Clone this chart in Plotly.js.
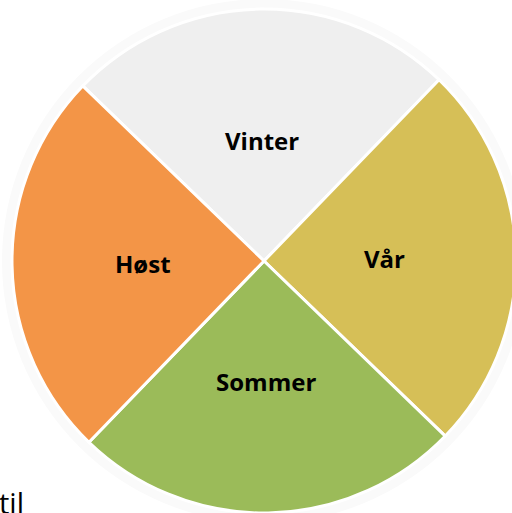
<!DOCTYPE html>
<html>
<head>
<meta charset="utf-8">
<script src="https://cdn.plot.ly/plotly-3.0.1.min.js"></script>
<style>
html,body{margin:0;padding:0;overflow:hidden;background:#fff;}
#chart{width:520px;height:513px;}
</style>
</head>
<body>
<div id="chart"></div>
<script>
const seasons = ["Vinter", "Vår", "Sommer", "Høst"];
const shares = [25, 25, 25, 25];
const sliceColors = ["#efefef", "#d6bf57", "#9bbb59", "#f39547"];
const footText = "til";

const W = 520, H = 513;
const cx = 264, cy = 261, r = 252;
const rotation = -46;
const labelFrac = 0.48;

const trace = {
  type: "pie",
  labels: seasons,
  values: shares,
  sort: false,
  direction: "clockwise",
  rotation: rotation,
  textinfo: "none",
  marker: {colors: sliceColors, line: {color: "#ffffff", width: 3}},
  hoverinfo: "none",
  showlegend: false,
  domain: {x: [(cx - r) / W, (cx + r) / W], y: [(H - (cy + r)) / H, (H - (cy - r)) / H]}
};

// slice labels placed at each slice's mid-angle, derived from the values
const total = shares.reduce((a, b) => a + b, 0);
let cum = 0;
const labelAnns = seasons.map((s, i) => {
  const mid = rotation + 360 * (cum + shares[i] / 2) / total;
  cum += shares[i];
  const a = mid * Math.PI / 180;
  const rr = r * labelFrac;
  const px = cx + rr * Math.sin(a);
  const py = cy - rr * Math.cos(a);
  return {
    text: "<b>" + s + "</b>", xref: "paper", yref: "paper",
    x: px / W, y: (H - py) / H, xanchor: "center", yanchor: "middle",
    showarrow: false,
    font: {family: "Open Sans, sans-serif", size: 24, color: "#000000"}
  };
});

const halo = 262;
const layout = {
  width: W,
  height: H,
  margin: {l: 0, r: 0, t: 0, b: 0},
  paper_bgcolor: "#ffffff",
  showlegend: false,
  shapes: [{
    type: "circle", xref: "paper", yref: "paper", layer: "below",
    x0: (cx - halo) / W, x1: (cx + halo) / W,
    y0: (H - (cy + halo)) / H, y1: (H - (cy - halo)) / H,
    fillcolor: "#fafafa", line: {width: 0}
  }],
  annotations: labelAnns.concat([{
    text: footText, xref: "paper", yref: "paper",
    x: 0, y: (H - 481) / H, xanchor: "left", yanchor: "top", xshift: -3,
    showarrow: false,
    font: {family: "Open Sans, sans-serif", size: 29, color: "#000000"}
  }])
};

Plotly.newPlot("chart", [trace], layout, {displayModeBar: false, staticPlot: true});
</script>
</body>
</html>
